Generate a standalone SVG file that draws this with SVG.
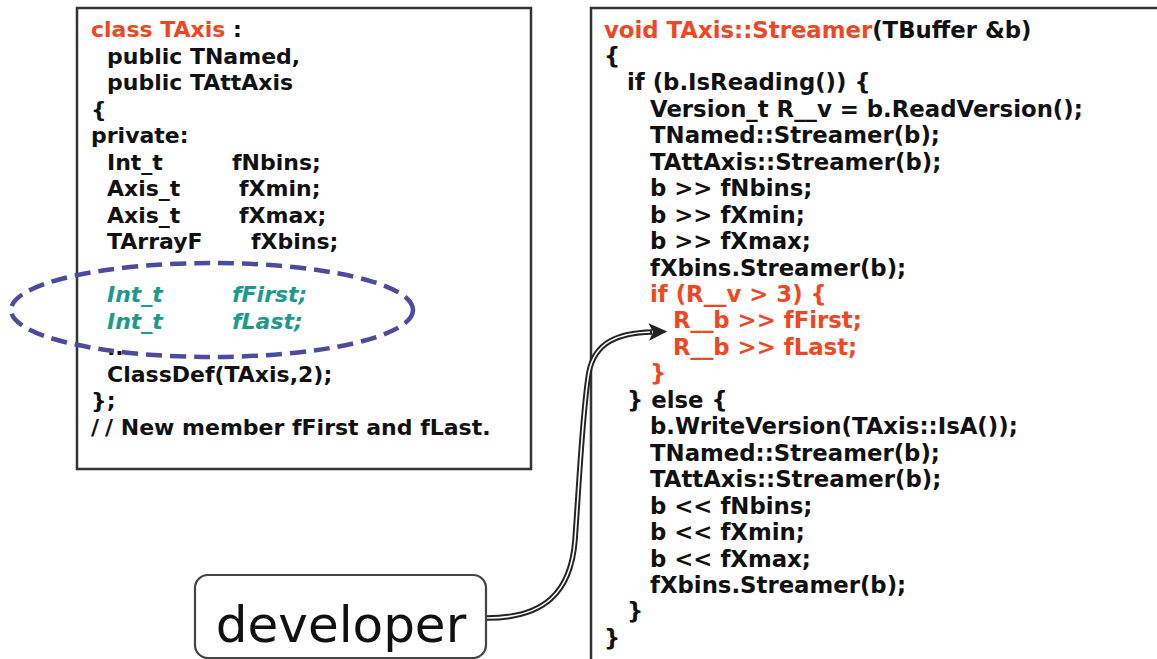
<svg xmlns="http://www.w3.org/2000/svg" width="1157" height="659" viewBox="0 0 1157 659">
  <style>
    .frame { fill: #ffffff; stroke: #333333; stroke-width: 2.5; }
    .code { font-family: "DejaVu Sans", Verdana, sans-serif; font-weight: bold; font-size: 22px; fill: #111111; }
    .codeR { font-family: "DejaVu Sans", Verdana, sans-serif; font-weight: bold; font-size: 22.8px; fill: #111111; }
    .hot { fill: #ef4723; }
    .added { fill: #1d9a8b; font-style: italic; }
    .mark { fill: none; stroke: #4b4ba0; stroke-width: 4.5; stroke-dasharray: 16 8; }
    .actor { fill: #ffffff; stroke: #444444; stroke-width: 2.2; }
    .actorText { font-family: "DejaVu Sans", Verdana, sans-serif; font-size: 50px; fill: #111111; }
    .wireOuter { fill: none; stroke: #222222; stroke-width: 5.5; }
    .wireInner { fill: none; stroke: #ffffff; stroke-width: 1.6; }
  </style>
  <defs>
    <marker id="head" markerUnits="userSpaceOnUse" markerWidth="24" markerHeight="24" viewBox="-2 -10 22 20" refX="3" refY="0" orient="auto">
      <path d="M0,-8 L17,0 L0,8 L4,0 Z" fill="#222222"/>
    </marker>
  </defs>

  <!-- class declaration -->
  <g id="class-decl">
    <rect class="frame" x="77" y="8" width="454" height="461"/>
    <text class="code" x="91" y="37"><tspan class="hot">class TAxis</tspan> :</text>
    <text class="code" x="107" y="63.5">public TNamed,</text>
    <text class="code" x="107" y="90">public TAttAxis</text>
    <text class="code" x="91" y="116.5">{</text>
    <text class="code" x="91" y="143">private:</text>
    <text class="code" x="107" y="169.5">Int_t<tspan x="232">fNbins;</tspan></text>
    <text class="code" x="107" y="196">Axis_t<tspan x="239">fXmin;</tspan></text>
    <text class="code" x="107" y="222.5">Axis_t<tspan x="239">fXmax;</tspan></text>
    <text class="code" x="107" y="249">TArrayF<tspan x="251">fXbins;</tspan></text>
    <text class="code added" x="107" y="302">Int_t<tspan x="232">fFirst;</tspan></text>
    <text class="code added" x="107" y="328.5">Int_t<tspan x="232">fLast;</tspan></text>
    <text class="code" x="107" y="355">...</text>
    <text class="code" x="107" y="381.5">ClassDef(TAxis,2);</text>
    <text class="code" x="91" y="408">};</text>
    <text class="code" x="91" y="434.5"><tspan letter-spacing="6">/</tspan>/ New member fFirst and fLast.</text>
  </g>

  <!-- dashed highlight round the new members -->
  <g id="highlight">
    <ellipse class="mark" cx="212" cy="310" rx="201" ry="47"/>
  </g>

  <!-- streamer function -->
  <g id="streamer">
    <rect class="frame" x="591" y="8" width="620" height="700"/>
    <text class="codeR" x="604" y="37.5"><tspan class="hot">void TAxis::Streamer</tspan>(TBuffer &amp;b)</text>
    <text class="codeR" x="604" y="63.95">{</text>
    <text class="codeR" x="627" y="90.4">if (b.IsReading()) {</text>
    <text class="codeR" x="650" y="116.85">Version_t R__v = b.ReadVersion();</text>
    <text class="codeR" x="650" y="143.3">TNamed::Streamer(b);</text>
    <text class="codeR" x="650" y="169.75">TAttAxis::Streamer(b);</text>
    <text class="codeR" x="650" y="196.2">b &gt;&gt; fNbins;</text>
    <text class="codeR" x="650" y="222.65">b &gt;&gt; fXmin;</text>
    <text class="codeR" x="650" y="249.1">b &gt;&gt; fXmax;</text>
    <text class="codeR" x="650" y="275.55">fXbins.Streamer(b);</text>
    <text class="codeR hot" x="650" y="302">if (R__v &gt; 3) {</text>
    <text class="codeR hot" x="673" y="328.45">R__b &gt;&gt; fFirst;</text>
    <text class="codeR hot" x="673" y="354.9">R__b &gt;&gt; fLast;</text>
    <text class="codeR hot" x="650" y="381.35">}</text>
    <text class="codeR" x="627" y="407.8">} else {</text>
    <text class="codeR" x="650" y="434.25">b.WriteVersion(TAxis::IsA());</text>
    <text class="codeR" x="650" y="460.7">TNamed::Streamer(b);</text>
    <text class="codeR" x="650" y="487.15">TAttAxis::Streamer(b);</text>
    <text class="codeR" x="650" y="513.6">b &lt;&lt; fNbins;</text>
    <text class="codeR" x="650" y="540.05">b &lt;&lt; fXmin;</text>
    <text class="codeR" x="650" y="566.5">b &lt;&lt; fXmax;</text>
    <text class="codeR" x="650" y="592.95">fXbins.Streamer(b);</text>
    <text class="codeR" x="627" y="619.4">}</text>
    <text class="codeR" x="604" y="645.85">}</text>
  </g>

  <!-- actor -->
  <g id="developer">
    <rect class="actor" x="195" y="575" width="291" height="83" rx="13" ry="13"/>
    <text class="actorText" x="341" y="642" text-anchor="middle">developer</text>
  </g>

  <!-- connector from the actor to the added read lines -->
  <g id="connectors">
    <path class="wireOuter" marker-end="url(#head)" d="M487,618 C545,618 571,592 575,540 C580,470 583,405 589,372 C595,342 618,333 652,332"/>
    <path class="wireInner" d="M487,618 C545,618 571,592 575,540 C580,470 583,405 589,372 C595,342 618,333 650,332"/>
  </g>
</svg>
